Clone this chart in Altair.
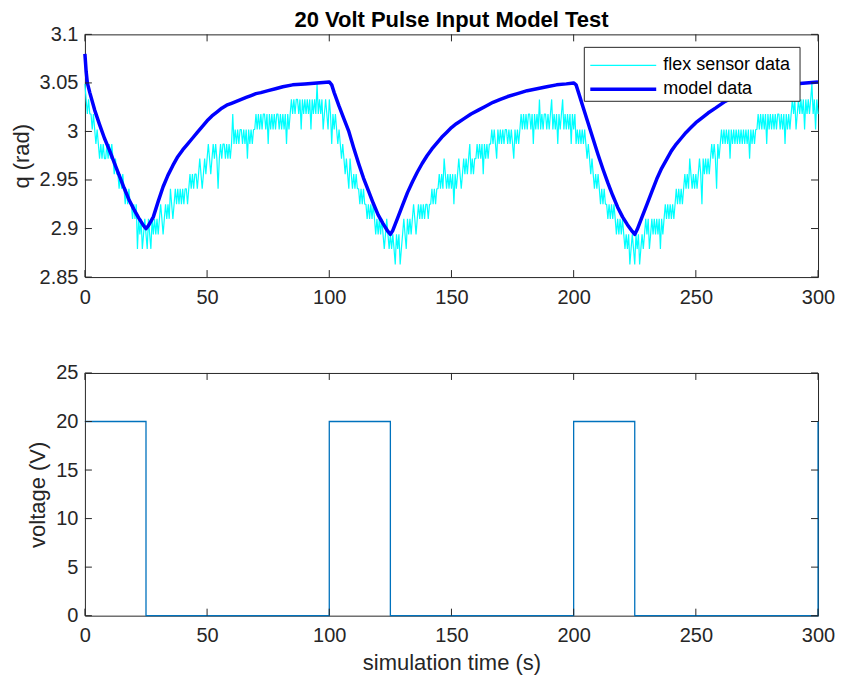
import altair as alt
import pandas as pd

# ---------------- data ----------------
# quantisation levels of the flex sensor (rad)
FLEX_LEVELS = [2.863, 2.879, 2.894, 2.910, 2.925, 2.941, 2.956,
               2.972, 2.987, 3.002, 3.018, 3.033, 3.049, 3.064]

# flex sensor readings (level index), one sample every 0.5 s
flex_cycle1 = [
    12, 11, 10, 11, 10, 10, 9, 10, 9, 8, 9, 8, 7, 8, 7, 8, 7, 7, 8, 7,
    8, 7, 8, 7, 6, 7, 6, 6, 5, 6, 5, 6, 5, 4, 5, 4, 5, 4, 4, 3,
    4, 3, 4, 1, 3, 2, 3, 1, 2, 3, 2, 1, 3, 2, 1, 3, 2, 3, 2, 3,
    2, 3, 4, 3, 2, 3, 4, 3, 4, 3, 5, 4, 3, 4, 5, 4, 5, 4, 5, 4,
    5, 4, 5, 5, 4, 5, 6, 5, 6, 5, 6, 6, 5, 6, 7, 6, 5, 6, 7, 6,
    7, 8, 7, 6, 7, 8, 7, 8, 7, 5, 7, 8, 7, 8, 8, 7, 8, 7, 8, 7,
    8, 10, 8, 9, 8, 9, 8, 9, 9, 8, 9, 8, 9, 7, 9, 8, 9, 8, 9, 9,
    10, 9, 10, 9, 10, 9, 10, 10, 9, 10, 8, 10, 9, 10, 9, 10, 9, 10, 10, 9,
    10, 9, 10, 9, 10, 8, 10, 9, 10, 11, 10, 11, 10, 11, 11, 10, 11, 9, 11, 10,
    11, 10, 11, 10, 11, 9, 11, 10, 11, 10, 12, 10, 11, 10, 11, 9, 10, 11, 10, 9,
]
flex_cycle2 = [
    11, 10, 8, 10, 9, 10, 9, 8, 9, 8, 7, 8, 7, 6, 7, 6, 5, 7, 6, 5,
    6, 5, 6, 5, 5, 4, 5, 4, 5, 4, 4, 3, 4, 3, 4, 3, 4, 3, 2, 3,
    2, 3, 2, 3, 2, 1, 2, 3, 2, 1, 2, 1, 2, 1, 0, 2, 1, 2, 0, 1,
    2, 3, 2, 1, 3, 2, 3, 2, 3, 4, 3, 2, 3, 4, 3, 4, 3, 4, 3, 4,
    4, 3, 4, 4, 5, 4, 5, 4, 5, 5, 6, 5, 6, 5, 7, 6, 5, 6, 5, 6,
    5, 6, 4, 6, 5, 6, 7, 6, 5, 6, 7, 6, 7, 6, 7, 8, 6, 7, 6, 7,
    7, 8, 7, 8, 7, 8, 6, 8, 7, 8, 7, 8, 8, 9, 8, 9, 8, 7, 9, 8,
    9, 8, 9, 8, 9, 9, 8, 9, 8, 9, 8, 7, 9, 8, 9, 8, 9, 10, 9, 10,
    9, 10, 9, 10, 10, 9, 10, 8, 10, 9, 10, 9, 11, 9, 10, 9, 10, 10, 9, 10,
    9, 10, 11, 9, 10, 9, 10, 8, 10, 9, 10, 11, 9, 10, 9, 10, 9, 10, 8, 10,
]
flex_cycle3 = [
    9, 10, 8, 9, 8, 9, 8, 9, 8, 9, 8, 7, 8, 7, 6, 7, 6, 5, 6, 5,
    6, 5, 4, 5, 4, 5, 4, 4, 3, 4, 3, 4, 3, 4, 3, 2, 3, 2, 3, 2,
    3, 2, 1, 2, 1, 2, 0, 1, 2, 1, 0, 2, 1, 2, 0, 1, 2, 1, 2, 3,
    2, 3, 1, 2, 3, 2, 3, 2, 3, 2, 3, 1, 3, 2, 3, 4, 3, 4, 3, 4,
    3, 4, 3, 4, 5, 4, 5, 4, 5, 4, 5, 6, 5, 6, 5, 7, 6, 5, 6, 5,
    6, 5, 6, 7, 6, 4, 7, 6, 7, 6, 7, 6, 7, 8, 7, 8, 7, 5, 8, 7,
    8, 9, 8, 9, 8, 9, 8, 9, 7, 9, 8, 9, 8, 9, 8, 9, 8, 9, 8, 9,
    8, 9, 8, 9, 7, 9, 8, 9, 8, 9, 9, 10, 9, 10, 9, 10, 9, 10, 8, 10,
    9, 10, 9, 10, 9, 10, 9, 10, 10, 9, 10, 9, 10, 8, 10, 9, 10, 9, 10, 11,
    10, 11, 9, 10, 11, 10, 11, 10, 11, 9, 11, 10, 11, 10, 11, 12, 10, 11, 9, 11,
    10,
]
FLEX_DT = 0.5

# model output (rad)
model_time = [0, 0.5, 1, 2, 4, 6, 8, 10, 12, 14, 16, 18, 20, 22, 24, 25, 26, 28,
              30, 32, 34, 36, 38, 40, 42, 44, 46, 48, 50, 52, 54, 56, 58, 60,
              62, 64, 66, 68, 70, 72, 75, 78, 81, 85, 90, 95, 100,
              101, 102, 104, 106, 108, 110, 112, 114, 116, 118, 120, 122, 124, 125,
              126, 128, 130, 132, 134, 136, 138, 140, 142, 144, 146, 148, 150, 152,
              155, 158, 161, 164, 167, 170, 173, 177, 181, 185, 189, 193, 197, 200,
              201, 202, 204, 206, 208, 210, 212, 214, 216, 218, 220, 222, 224, 225,
              226, 228, 230, 232, 234, 236, 238, 240, 242, 244, 246, 248, 250, 252,
              255, 258, 262, 266, 270, 275, 280, 285, 290, 295, 300]
model_q = [3.080, 3.062, 3.050, 3.040, 3.022, 3.007, 2.993, 2.981, 2.968, 2.955,
           2.942, 2.930, 2.920, 2.911, 2.903, 2.900, 2.903, 2.912,
           2.928, 2.943, 2.955, 2.965, 2.974, 2.981, 2.987, 2.993, 2.999, 3.005,
           3.011, 3.016, 3.020, 3.024, 3.027, 3.029,
           3.031, 3.033, 3.035, 3.037, 3.039, 3.040, 3.042, 3.044, 3.046, 3.048,
           3.049, 3.050, 3.051,
           3.048, 3.040, 3.026, 3.013, 3.000, 2.983, 2.967, 2.952, 2.939, 2.926,
           2.914, 2.905, 2.897, 2.894,
           2.898, 2.911, 2.924, 2.937, 2.948, 2.958, 2.967, 2.975, 2.982, 2.988,
           2.994, 2.999, 3.004, 3.008,
           3.013, 3.018, 3.022, 3.026, 3.030, 3.033, 3.036, 3.039, 3.042, 3.044,
           3.046, 3.048, 3.049, 3.050,
           3.048, 3.040, 3.024, 3.008, 2.992, 2.976, 2.961, 2.947, 2.934, 2.922,
           2.912, 2.904, 2.897, 2.894,
           2.899, 2.912, 2.925, 2.938, 2.951, 2.962, 2.971, 2.980, 2.987, 2.993,
           2.999, 3.004, 3.009, 3.013,
           3.019, 3.024, 3.031, 3.036, 3.039, 3.043, 3.046, 3.048, 3.049, 3.050, 3.051]

# input voltage pulses (V)
pulse_time = [0, 25, 100, 125, 200, 225, 300]
pulse_volt = [20, 0, 20, 0, 20, 0, 20]

x_ticks = [0, 50, 100, 150, 200, 250, 300]
q_ticks = [2.85, 2.9, 2.95, 3.0, 3.05, 3.1]
v_ticks = [0, 5, 10, 15, 20, 25]
legend_labels = ["flex sensor data", "model data"]
title_text = "20 Volt Pulse Input Model Test"

# ---------------- build ----------------
FONT = "Liberation Sans"
AX = "#262626"
CYAN = "#00FFFF"
BLUE = "#0000FF"
VBLUE = "#0072BD"
W, H = 734, 243
TL = 7  # inward tick length

flex_idx = flex_cycle1 + flex_cycle2 + flex_cycle3
flex_df = pd.DataFrame({
    "t": [i * FLEX_DT for i in range(len(flex_idx))],
    "q": [FLEX_LEVELS[k] for k in flex_idx],
})
model_df = pd.DataFrame({"t": model_time, "q": model_q})
pulse_df = pd.DataFrame({"t": pulse_time, "v": pulse_volt})

xs = alt.Scale(domain=[0, 300], nice=False, zero=False)
qs = alt.Scale(domain=[2.85, 3.1], nice=False, zero=False)
vs = alt.Scale(domain=[0, 25], nice=False, zero=False)

x_axis = alt.Axis(values=x_ticks, title=None, labelPadding=10, format="d")
x_axis_b = alt.Axis(values=x_ticks, title="simulation time (s)", labelPadding=10,
                    titlePadding=7, format="d")
q_axis = alt.Axis(values=q_ticks, title="q (rad)", labelPadding=7, titlePadding=6,
                  format=".2~f")
v_axis = alt.Axis(values=v_ticks, title="voltage (V)", labelPadding=7, titlePadding=6,
                  format="d")

flex_line = alt.Chart(flex_df).mark_line(color=CYAN, strokeWidth=1.2, strokeJoin="bevel").encode(
    x=alt.X("t:Q", scale=xs, axis=x_axis),
    y=alt.Y("q:Q", scale=qs, axis=q_axis),
)
model_line = alt.Chart(model_df).mark_line(color=BLUE, strokeWidth=3.5, strokeJoin="round").encode(
    x=alt.X("t:Q", scale=xs, axis=x_axis),
    y=alt.Y("q:Q", scale=qs, axis=q_axis),
)


def xticks(scale, h, axis):
    d = pd.DataFrame({"t": x_ticks})
    base = alt.Chart(d).mark_rule(color=AX, strokeWidth=1)
    top = base.encode(x=alt.X("t:Q", scale=scale, axis=axis), y=alt.value(0), y2=alt.value(TL))
    bot = base.encode(x=alt.X("t:Q", scale=scale, axis=axis), y=alt.value(h - TL), y2=alt.value(h))
    return [top, bot]


def yticks(vals, field, scale, axis):
    d = pd.DataFrame({field: vals})
    base = alt.Chart(d).mark_rule(color=AX, strokeWidth=1)
    left = base.encode(y=alt.Y(f"{field}:Q", scale=scale, axis=axis), x=alt.value(0), x2=alt.value(TL))
    right = base.encode(y=alt.Y(f"{field}:Q", scale=scale, axis=axis), x=alt.value(W - TL), x2=alt.value(W))
    return [left, right]


one = pd.DataFrame({"k": [0]})
title_mark = alt.Chart(one).mark_text(align="center", baseline="alphabetic", fontSize=22,
                                      fontWeight="bold", font=FONT, color="black").encode(
    x=alt.value(W / 2), y=alt.value(-7), text=alt.value(title_text))
leg_box = alt.Chart(one).mark_rect(fill="white", stroke=AX, strokeWidth=1).encode(
    x=alt.value(W - 234), x2=alt.value(W - 18), y=alt.value(13), y2=alt.value(67))
leg_l1 = alt.Chart(one).mark_rule(color=CYAN, strokeWidth=1.2).encode(
    x=alt.value(W - 228), x2=alt.value(W - 162), y=alt.value(31))
leg_l2 = alt.Chart(one).mark_rule(color=BLUE, strokeWidth=3.5).encode(
    x=alt.value(W - 228), x2=alt.value(W - 162), y=alt.value(55))
leg_t1 = alt.Chart(one).mark_text(align="left", baseline="middle", fontSize=18, font=FONT,
                                  color="black").encode(
    x=alt.value(W - 155), y=alt.value(31), text=alt.value(legend_labels[0]))
leg_t2 = alt.Chart(one).mark_text(align="left", baseline="middle", fontSize=18, font=FONT,
                                  color="black").encode(
    x=alt.value(W - 155), y=alt.value(55), text=alt.value(legend_labels[1]))

top = alt.layer(
    flex_line, model_line, *xticks(xs, H, x_axis), *yticks(q_ticks, "q", qs, q_axis),
    leg_box, leg_l1, leg_l2, leg_t1, leg_t2, title_mark,
).properties(width=W, height=H)

pulse_line = alt.Chart(pulse_df).mark_line(color=VBLUE, strokeWidth=1.3, interpolate="step-after").encode(
    x=alt.X("t:Q", scale=xs, axis=x_axis_b),
    y=alt.Y("v:Q", scale=vs, axis=v_axis),
)
bottom = alt.layer(
    pulse_line, *xticks(xs, H, x_axis_b), *yticks(v_ticks, "v", vs, v_axis),
).properties(width=W, height=H)

chart = alt.vconcat(top, bottom, spacing=96, bounds="flush").properties(
    padding={"left": 1, "top": 0, "right": 0, "bottom": 0},
    background="white",
).configure_view(
    stroke=AX, strokeWidth=1
).configure_axis(
    domain=False, ticks=False, grid=False, labelFlush=False,
    labelFont=FONT, labelFontSize=20, labelColor=AX,
    titleFont=FONT, titleFontSize=22, titleFontWeight="normal", titleColor=AX,
)

chart.save("out.html", embed_options={"renderer": "svg", "actions": False})
